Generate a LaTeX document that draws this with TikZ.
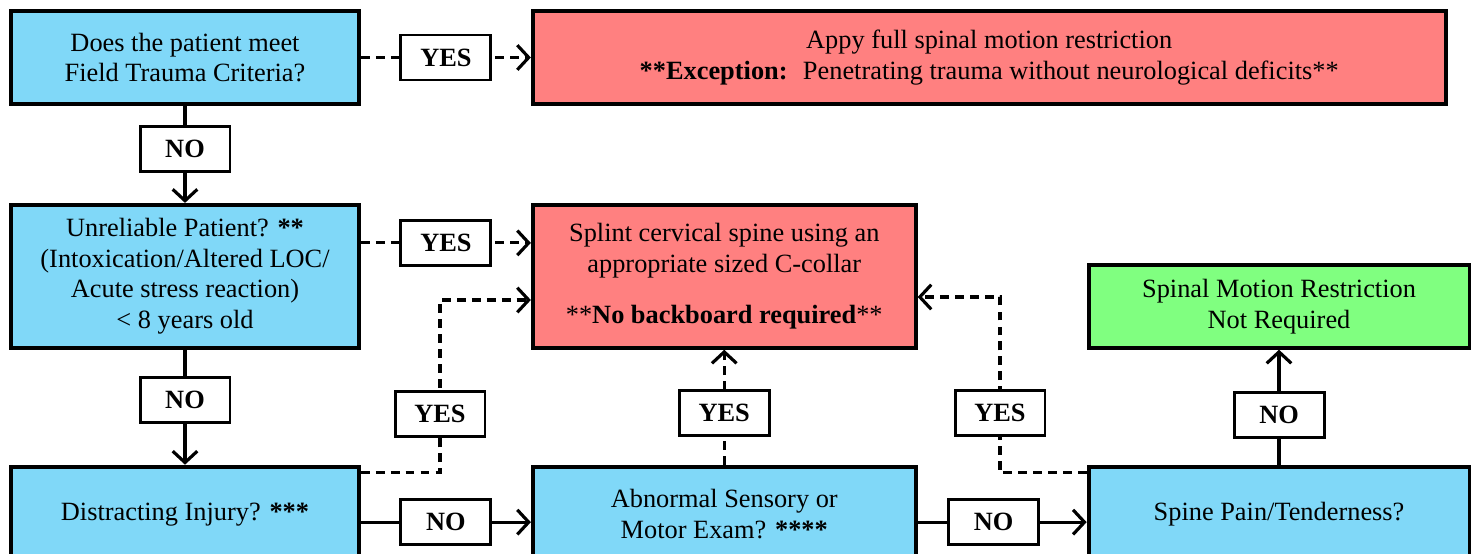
\documentclass[tikz,border=0pt]{standalone}
\usepackage{fontspec}
\setmainfont{Liberation Serif}
\usetikzlibrary{shapes,arrows.meta,positioning,calc}
\definecolor{askblue}{RGB}{128,216,248}
\definecolor{stopred}{RGB}{255,128,128}
\definecolor{okgreen}{RGB}{128,255,128}

\begin{document}
\begin{tikzpicture}[x=0.02cm, y=-0.02cm, node distance=3.4cm, >={Straight Barb[length=6.5pt,width=14pt]}]
    \tikzstyle{askbox} = [rectangle, draw, line width=2.2pt, fill=askblue, align=center, minimum width=6.96cm, inner sep=2pt, font=\fontsize{15}{17.5}\selectfont]
    \tikzstyle{stopbox} = [askbox, fill=stopred]
    \tikzstyle{okbox} = [askbox, fill=okgreen]
    \tikzstyle{answer} = [rectangle, draw, solid, line width=1.7pt, fill=white, minimum width=1.8cm, minimum height=0.9cm, inner sep=0pt, font=\fontsize{15}{17}\selectfont\bfseries]
    \tikzstyle{yesline} = [line width=1.8pt, ->, dash pattern=on 5pt off 3.5pt]
    \tikzstyle{noline} = [line width=1.8pt, ->]

    \useasboundingbox (0,0) rectangle (1477,554);
    \clip (0,0) rectangle (1477,554);

    % Row 1
    \node[askbox, minimum height=1.86cm] (trauma) at (185,57.5) {Does the patient meet\\Field Trauma Criteria?};
    \node[stopbox, right=of trauma, minimum width=18.26cm, minimum height=1.86cm] (fullsmr) {Appy full spinal motion restriction\\\textbf{**Exception:}~ Penetrating trauma without neurological deficits**};

    % Row 2
    \node[askbox, below=1.94cm of trauma, minimum height=2.86cm] (unrel) {Unreliable Patient? \textbf{**}\\(Intoxication/Altered LOC/\\Acute stress reaction)\\< 8 years old};
    \node[stopbox, right=of unrel, minimum width=7.66cm, minimum height=2.86cm] (splint) {Splint cervical spine using an\\appropriate sized C-collar\\[0.4cm]**\textbf{No backboard required}**};

    % Row 3
    \node[askbox, below=2.3cm of unrel, minimum height=1.9cm] (distract) {Distracting Injury? \textbf{***}};
    \node[askbox, right=of distract, minimum width=7.66cm, minimum height=1.9cm] (motor) {Abnormal Sensory or\\Motor Exam? \textbf{****}};
    \node[askbox, right=3.38cm of motor, minimum width=7.62cm, minimum height=1.9cm] (pain) {Spine Pain/Tenderness?};
    \node[okbox, above=2.3cm of pain, minimum width=7.62cm, minimum height=1.66cm] (nosmr) {Spinal Motion Restriction\\Not Required};

    % Answers
    \draw[yesline] (trauma) -- node[answer] (yestrauma) {YES} (fullsmr);
    \draw[noline] (trauma) -- node[answer, pos=0.44] (notrauma) {NO} (unrel);
    \draw[yesline] ([yshift=-0.8cm]unrel.north east) -- node[answer] (yesunrel) {YES} ([yshift=-0.8cm]splint.north west);
    \draw[noline] (unrel) -- node[answer, pos=0.44] (nounrel) {NO} (distract);
    \coordinate (bendA) at (440,300);
    \draw[yesline] ([yshift=-0.16cm]distract.north east) -| node[answer, pos=0.67] (yesdistract) {YES} (bendA) -- (bendA -| splint.west);
    \draw[noline] ([yshift=-0.16cm]distract.east) -- node[answer] (nodistract) {NO} ([yshift=-0.16cm]motor.west);
    \draw[yesline] (motor) -- node[answer, pos=0.45] (yesmotor) {YES} (splint);
    \draw[noline] ([yshift=-0.16cm]motor.east) -- node[answer, pos=0.45] (nomotor) {NO} ([yshift=-0.16cm]pain.west);
    \coordinate (bendB) at (1000,297);
    \draw[yesline] ([yshift=-0.16cm]pain.north west) -| node[answer, pos=0.67] (yespain) {YES} (bendB) -- (bendB -| splint.east);
    \draw[noline] (pain) -- node[answer, pos=0.43] (nopain) {NO} (nosmr);
\end{tikzpicture}
\end{document}
